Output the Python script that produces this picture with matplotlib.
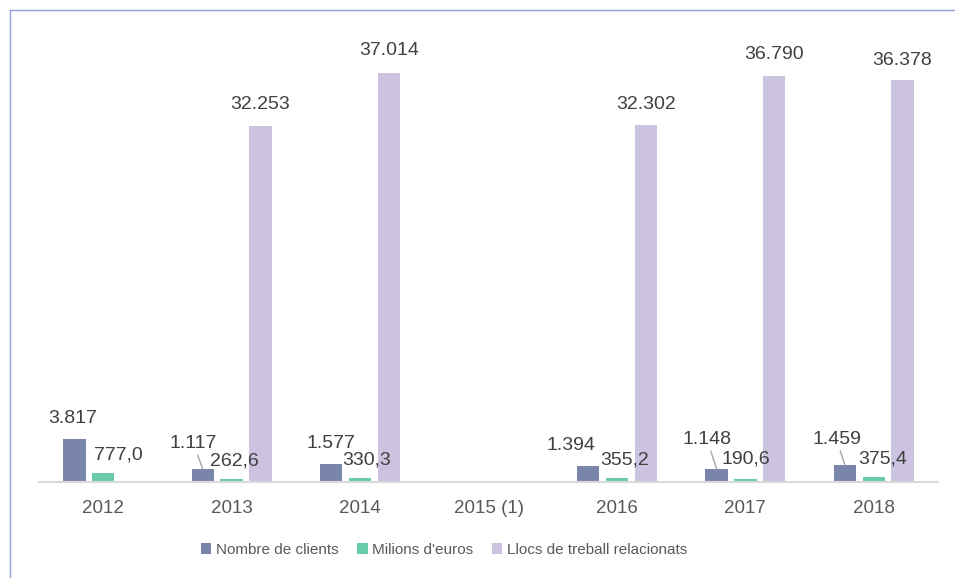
import numpy as np
import matplotlib
matplotlib.use("Agg")
import matplotlib.pyplot as plt
from matplotlib.lines import Line2D

years = ["2012", "2013", "2014", "2015 (1)", "2016", "2017", "2018"]
clients = [3817, 1117, 1577, np.nan, 1394, 1148, 1459]
euros = [777.0, 262.6, 330.3, np.nan, 355.2, 190.6, 375.4]
llocs = [np.nan, 32253, 37014, np.nan, 32302, 36790, 36378]
series_names = ["Nombre de clients", "Milions d'euros", "Llocs de treball relacionats"]

colors = ["#7a86a9", "#69cba8", "#cbc3df"]
text_color = "#404040"
tick_color = "#595959"

# label offsets (pixels) from bar top centre to label centre
off_clients = [(-2, 21), (-9.5, 25.5), (-0.5, 20.5), None, (-17, 21), (-9.5, 29), (-8.5, 26)]
off_euros = [(15, 18), (2.5, 17.5), (6.5, 17.5), None, (8, 18), (0, 20), (8.5, 18)]
off_llocs = [None, (0, 21), (0, 23), None, (0, 21), (0, 21), (0, 20)]
leader = [False, True, False, False, False, True, True]

plt.rcParams['font.family'] = ['Liberation Sans', 'DejaVu Sans']

fig = plt.figure(figsize=(9.55, 5.78), dpi=100)
ax = fig.add_axes([39 / 955, 96.5 / 578, 899 / 955, 441.4 / 578])

x = np.arange(len(years))
width = 0.174
step = 0.224


def fmt_int(v):
    return f"{int(round(v)):,}".replace(",", ".")


def fmt_dec(v):
    return f"{v:.1f}".replace(".", ",")


all_series = [(clients, off_clients, fmt_int), (euros, off_euros, fmt_dec), (llocs, off_llocs, fmt_int)]
for si, (vals, offs, fmt) in enumerate(all_series):
    xs = [x[i] + (si - 1) * step for i in range(len(vals)) if not np.isnan(vals[i])]
    hs = [vals[i] for i in range(len(vals)) if not np.isnan(vals[i])]
    ax.bar(xs, hs, width=width, color=colors[si], label=series_names[si], zorder=2)
    for i, v in enumerate(vals):
        if np.isnan(v):
            continue
        xb = x[i] + (si - 1) * step
        dx, dy = offs[i]
        if si == 0 and leader[i]:
            ax.annotate(fmt(v), xy=(xb, v), xytext=(dx, dy), textcoords='offset pixels',
                        ha='center', va='center', fontsize=14, color=text_color, zorder=4,
                        arrowprops=dict(arrowstyle='-', color='#a6a6a6', lw=1.0,
                                        shrinkA=0, shrinkB=0))
        else:
            ax.annotate(fmt(v), xy=(xb, v), xytext=(dx, dy), textcoords='offset pixels',
                        ha='center', va='center', fontsize=14, color=text_color, zorder=4)

ax.set_xlim(-0.5, len(years) - 0.5)
ax.set_ylim(0, 40000)
ax.set_xticks(x)
ax.set_xticklabels(years, fontsize=13.5, color=tick_color)
ax.tick_params(axis='x', length=0, pad=13)
ax.set_yticks([])
for s in ['left', 'right', 'top']:
    ax.spines[s].set_visible(False)
ax.spines['bottom'].set_color('#d9d9d9')
ax.spines['bottom'].set_linewidth(1.5)
ax.spines['bottom'].set_zorder(3)

leg = fig.legend(loc='center', bbox_to_anchor=(444 / 955, 1 - 550 / 578), ncol=3, frameon=False,
                 fontsize=11, handlelength=0.7, handleheight=0.7, handletextpad=0.3,
                 columnspacing=1.2, labelcolor=tick_color)

# partial frame (top and left edges)
fig.add_artist(Line2D([10 / 955, 1.0], [1 - 10 / 578, 1 - 10 / 578], transform=fig.transFigure,
                      color='#8fa2d4', lw=1.0))
fig.add_artist(Line2D([10 / 955, 10 / 955], [0.0, 1 - 10 / 578], transform=fig.transFigure,
                      color='#8fa2d4', lw=1.0))

fig.savefig("out.png", dpi=100)
